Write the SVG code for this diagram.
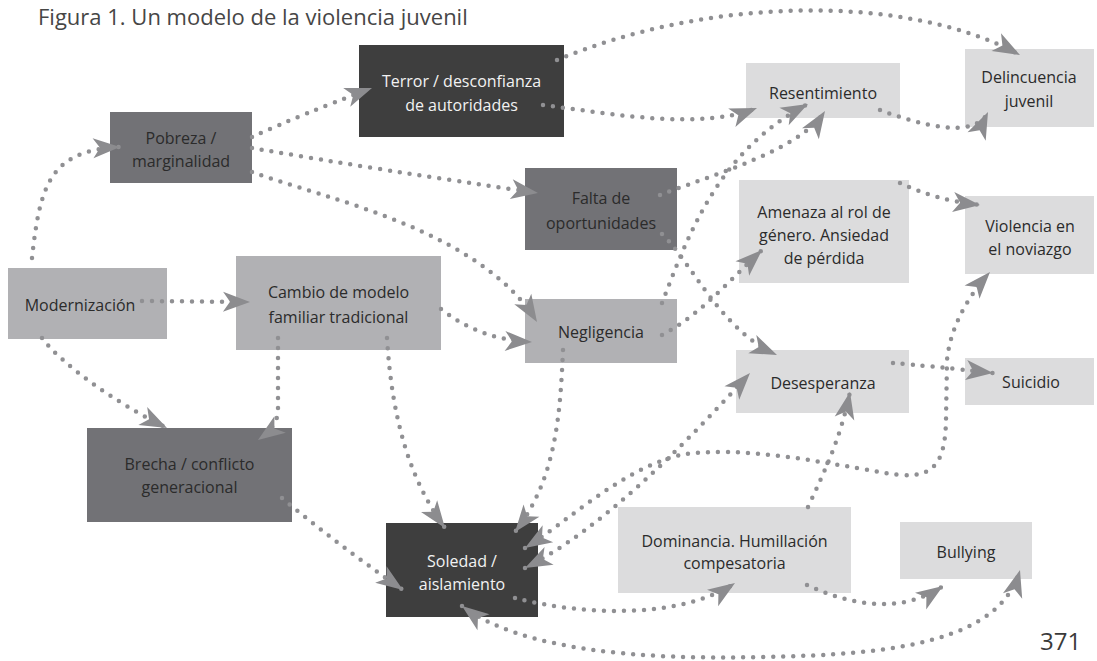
<svg xmlns="http://www.w3.org/2000/svg" width="1097" height="661" viewBox="0 0 1097 661">
<style>
text{font-family:"Open Sans","Liberation Sans",sans-serif;font-size:16px;text-anchor:middle;fill:#2b2b2b}
.title{font-size:22px;text-anchor:start;fill:#464646}
.pg{font-size:24px;text-anchor:start;fill:#3a3a3a}
.dk rect{fill:#3e3e3e}
.dk text{fill:#f2f2f2}
.md rect{fill:#727276}
.mg rect{fill:#b1b1b4}
.lt rect{fill:#dcdcdd}
.c{fill:none;stroke:#909093;stroke-width:4.5;stroke-dasharray:0 10;stroke-linecap:round;marker-end:url(#ah)}
.b{marker-start:url(#ahs)}
</style>
<defs>
<marker id="ah" viewBox="-28 -12 30 24" refX="0" refY="0" markerWidth="30" markerHeight="24" markerUnits="userSpaceOnUse" orient="auto">
<path d="M0,0 L-27,-10 L-20,0 L-27,10 Z" fill="#8c8c8f"/>
</marker>
<marker id="ahs" viewBox="-28 -12 30 24" refX="0" refY="0" markerWidth="30" markerHeight="24" markerUnits="userSpaceOnUse" orient="auto-start-reverse">
<path d="M0,0 L-27,-10 L-20,0 L-27,10 Z" fill="#8c8c8f"/>
</marker>
</defs>
<rect width="1097" height="661" fill="#ffffff"/>
<text class="title" x="38" y="25">Figura 1. Un modelo de la violencia juvenil</text>

<g id="pobreza" class="md"><rect x="110" y="112" width="142" height="71"/><text x="181" y="144">Pobreza /</text><text x="181" y="167">marginalidad</text></g>
<g id="terror" class="dk"><rect x="359" y="45" width="205" height="92"/><text x="461.5" y="87">Terror / desconfianza</text><text x="461.5" y="111">de autoridades</text></g>
<g id="resentimiento" class="lt"><rect x="746" y="63" width="154" height="55"/><text x="823" y="99">Resentimiento</text></g>
<g id="delincuencia" class="lt"><rect x="965" y="49" width="129" height="78"/><text x="1029" y="83">Delincuencia</text><text x="1029" y="107">juvenil</text></g>
<g id="falta" class="md"><rect x="525" y="168" width="152" height="82"/><text x="601" y="204">Falta de</text><text x="601" y="229">oportunidades</text></g>
<g id="amenaza" class="lt"><rect x="739" y="180" width="170" height="103"/><text x="824" y="218">Amenaza al rol de</text><text x="824" y="241">género. Ansiedad</text><text x="824" y="264">de pérdida</text></g>
<g id="violencia" class="lt"><rect x="965" y="196" width="129" height="78"/><text x="1030" y="232">Violencia en</text><text x="1030" y="255">el noviazgo</text></g>
<g id="modernizacion" class="mg"><rect x="8" y="268" width="159" height="71"/><text x="80" y="311">Modernización</text></g>
<g id="cambio" class="mg"><rect x="236" y="256" width="205" height="94"/><text x="338.5" y="298">Cambio de modelo</text><text x="338.5" y="323">familiar tradicional</text></g>
<g id="negligencia" class="mg"><rect x="525" y="299" width="152" height="64"/><text x="601" y="338">Negligencia</text></g>
<g id="desesperanza" class="lt"><rect x="736" y="350" width="173" height="63"/><text x="823" y="389">Desesperanza</text></g>
<g id="suicidio" class="lt"><rect x="965" y="358" width="129" height="47"/><text x="1031" y="388">Suicidio</text></g>
<g id="brecha" class="md"><rect x="87" y="428" width="205" height="94"/><text x="189.5" y="470">Brecha / conflicto</text><text x="189.5" y="493">generacional</text></g>
<g id="soledad" class="dk"><rect x="386" y="523" width="152" height="94"/><text x="462" y="567">Soledad /</text><text x="462" y="590">aislamiento</text></g>
<g id="dominancia" class="lt"><rect x="618" y="507" width="233" height="86"/><text x="734.5" y="547">Dominancia. Humillación</text><text x="734.5" y="569">compesatoria</text></g>
<g id="bullying" class="lt"><rect x="900" y="522" width="132" height="57"/><text x="966" y="558">Bullying</text></g>

<g id="connectors">
<path class="c" d="M32,258 C40,185 50,150 120,147"/>
<path class="c" d="M142,301 L250,302"/>
<path class="c" d="M42,338 C60,362 110,400 167,428"/>
<path class="c" d="M278,338 L278,410 Q278,426 258,440"/>
<path class="c" d="M387,338 C392,420 410,480 445,528"/>
<path class="c" d="M441,309 Q480,340 532,342"/>
<path class="c" d="M252,137 Q300,115 372,88"/>
<path class="c" d="M252,148 Q380,170 538,193"/>
<path class="c" d="M252,172 C330,200 480,230 537,322"/>
<path class="c" d="M557,60 C700,0 900,-10 1020,55"/>
<path class="c" d="M543,105 C620,115 700,130 757,108"/>
<path class="c" d="M880,110 C920,125 975,140 988,112"/>
<path class="c" d="M660,195 C720,172 800,150 825,111"/>
<path class="c" d="M662,303 C690,230 720,150 808,104"/>
<path class="c" d="M662,234 C690,260 720,330 777,355"/>
<path class="c" d="M662,335 C700,315 730,280 762,250"/>
<path class="c" d="M900,183 Q935,200 980,205"/>
<path class="c" d="M893,363 Q930,366 993,373"/>
<path class="c b" d="M525,548 C570,520 620,470 680,455 C740,445 820,462 880,472 C930,482 945,470 946,420 L947,360 C950,330 965,300 990,272"/>
<path class="c b" d="M525,568 C600,530 680,450 750,373"/>
<path class="c" d="M563,350 C560,420 555,480 515,532"/>
<path class="c" d="M282,498 C320,530 360,560 403,590"/>
<path class="c" d="M515,598 C580,615 680,620 735,583"/>
<path class="c" d="M807,585 C850,605 900,615 943,586"/>
<path class="c" d="M808,507 C825,470 840,440 850,392"/>
<path class="c b" d="M462,606 C520,650 640,660 760,657 C900,655 1000,640 1020,570"/>
</g>
<text class="pg" x="1040" y="650">371</text>
</svg>
